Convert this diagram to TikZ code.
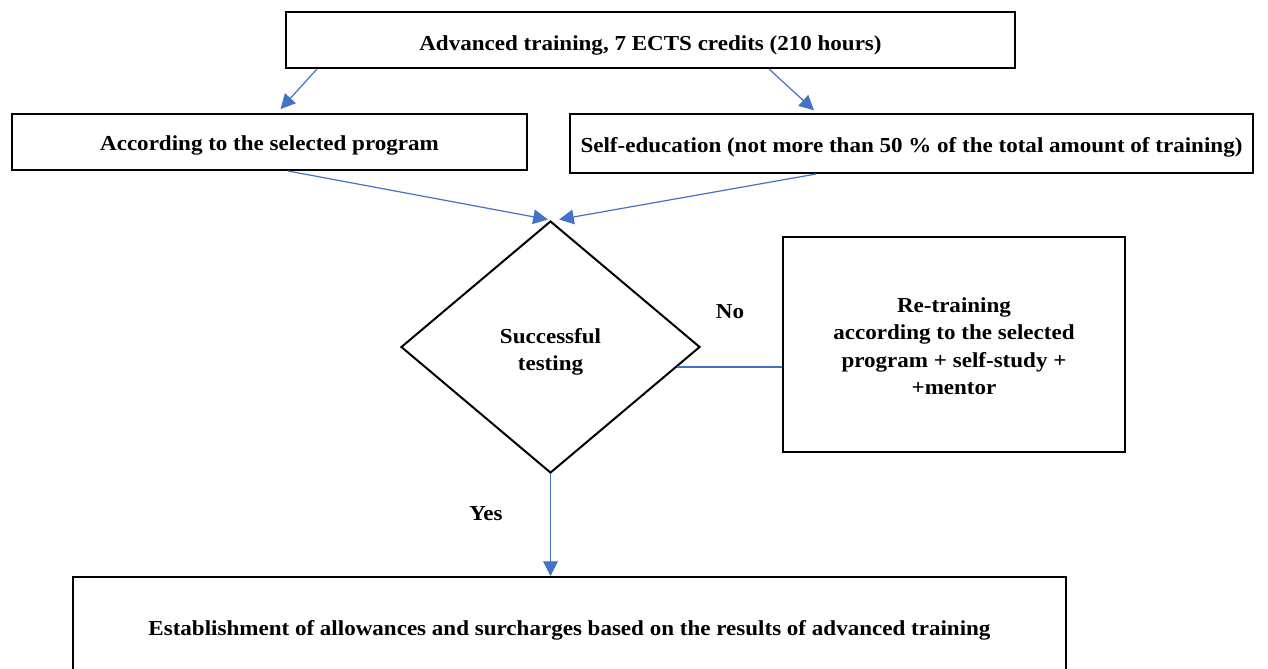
\documentclass[tikz,border=0pt]{standalone}
\usepackage{fontspec}
\setmainfont[FakeStretch=1.08]{Liberation Serif}
\usetikzlibrary{shapes.geometric,arrows.meta,calc}
\definecolor{conblue}{RGB}{68,114,196}
\begin{document}
\begin{tikzpicture}[x=0.75pt,y=-0.75pt,
  box/.style={draw=black,line width=1.5pt,rectangle,inner sep=0pt,font=\fontsize{16}{20.6}\selectfont\bfseries,align=center},
  dia/.style={draw=black,line width=1.5pt,diamond,inner sep=0pt,font=\fontsize{16}{20.3}\selectfont\bfseries,align=center},
  lbl/.style={font=\fontsize{16}{17}\selectfont\bfseries},
  con/.style={draw=conblue,line width=0.9pt,-{Triangle[length=11pt,width=11pt]}},
  conplain/.style={draw=conblue,line width=0.9pt}]
\clip (0,0) rectangle (1268,668);
\fill[white] (0,0) rectangle (1268,668);
\node[box,minimum width=546.75pt,minimum height=42pt,text height=15.1pt,text depth=0pt] (top) at (650.5,40) {Advanced training, 7 ECTS credits (210 hours)};
\node[box,minimum width=386.25pt,minimum height=42pt,text height=12.1pt,text depth=0pt] (lb) at (269.5,142) {According to the selected program};
\node[box,minimum width=512.25pt,minimum height=44.25pt,text height=12.8pt,text depth=0pt] (rb) at (911.5,143.5) {Self-education (not more than 50 \% of the total amount of training)};
\node[dia,minimum width=224.25pt,minimum height=189pt,text height=35.3pt,text depth=0pt] (d) at (550.5,347) {Successful\\testing};
\node[box,minimum width=256.5pt,minimum height=161.25pt,text height=75.3pt,text depth=0pt] (rt) at (954,344.5) {Re-training\\according to the selected\\program + self-study +\\+mentor};
\node[box,minimum width=744.75pt,minimum height=78pt,text height=9.1pt,text depth=0pt] (bb) at (569.5,629) {Establishment of allowances and surcharges based on the results of advanced training};
\node[lbl] (no) at (730,312) {No};
\node[lbl] (yes) at (486,514) {Yes};
\draw[con,shorten >=4pt] ([xshift=24pt]top.south west) -- ([xshift=5.6pt]lb.north);
\draw[con,shorten >=3pt] ([xshift=-185.25pt]top.south east) -- ([xshift=-70.9pt]rb.north);
\draw[con,shorten >=2pt] ([xshift=13.9pt]lb.south) -- (d.north);
\draw[con,shorten >=2pt] ([xshift=-71.6pt]rb.south) -- ([xshift=4.5pt]d.north);
\draw[con] (d.south) -- (d.south |- bb.north);
\draw[conplain] (d.-9) -- (d.-9 -| rt.west);
\end{tikzpicture}
\end{document}
